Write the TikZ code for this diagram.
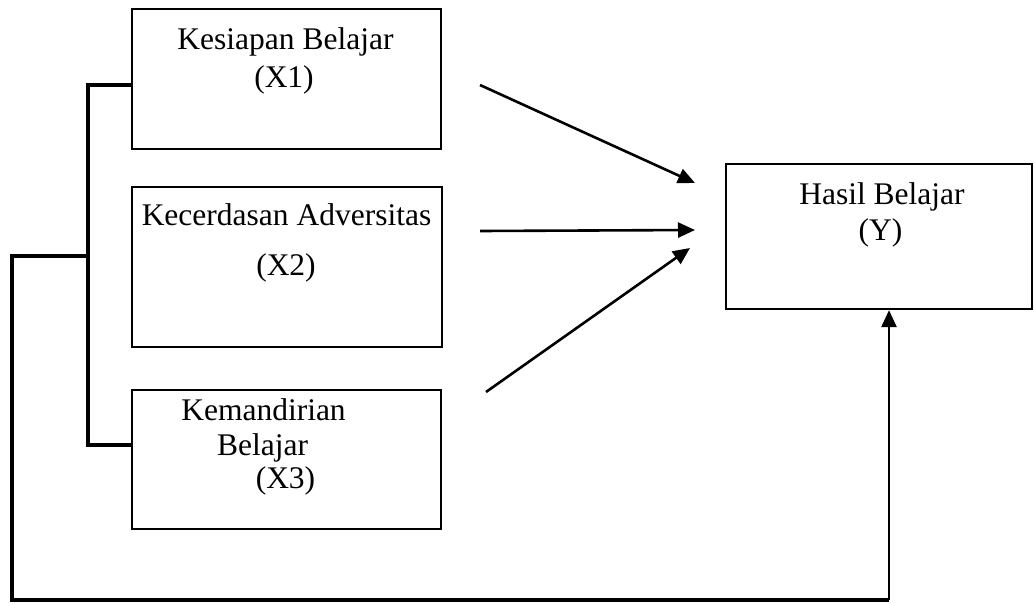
\documentclass[tikz,border=0pt]{standalone}
\usepackage{fontspec}
\setmainfont{Liberation Serif}
\usetikzlibrary{arrows.meta}
\begin{document}
\begin{tikzpicture}[x=1pt,y=-1pt,
  box/.style={draw, line width=2.2pt, minimum width=#1, inner sep=0pt},
  txt/.style={anchor=base, inner sep=0pt, font=\fontsize{31.5}{38}\selectfont},
  bracket/.style={line width=3.6pt},
  arr/.style={line width=2.6pt, -{Triangle[length=17pt,width=15pt]}}]
\useasboundingbox (0,0) rectangle (1034,603);
% boxes
\node[box=309pt, minimum height=140pt] (x1) at (286.5,79) {};
\node[box=310pt, minimum height=160pt] (x2) at (287,267) {};
\node[box=309pt, minimum height=139pt] (x3) at (286.5,459.5) {};
\node[box=306pt, minimum height=145pt] (y) at (879,236.5) {};
% texts
\node[txt] (t1a) at (285.5,49) {Kesiapan Belajar};
\node[txt] (t1b) at (284,87) {(X1)};
\node[txt] (t2a) at (286.5,225) {Kecerdasan Adversitas};
\node[txt] (t2b) at (286,275) {(X2)};
\node[txt] (t3a) at (263.5,420) {Kemandirian};
\node[txt] (t3b) at (262.5,455) {Belajar};
\node[txt] (t3c) at (285.5,488) {(X3)};
\node[txt] (tya) at (882,204) {Hasil Belajar};
\node[txt] (tyb) at (880.5,240) {(Y)};
% bracket and feedback line
\coordinate (b1) at (88,85);
\coordinate (b3) at (88,445);
\coordinate (b2) at (88,256);
\coordinate (l2) at (12,256);
\coordinate (l3) at (12,600);
\coordinate (r3) at (889,600);
\draw[bracket, line join=miter] (x1.west |- b1) -- (b1) -- (b3) -- (x3.west |- b3);
\draw[bracket, line join=miter] (b2) -- (l2) -- (l3) -- (r3);
\draw[arr] (r3) -- (y.south -| r3);
% arrows
\coordinate (s1) at (480,85);
\coordinate (e1) at (695,183);
\coordinate (s2) at (480,231);
\coordinate (e2) at (695,230);
\coordinate (s3) at (486,392);
\coordinate (e3) at (690,248);
\draw[arr] (s1) -- (e1);
\draw[arr] (s2) -- (e2);
\draw[arr] (s3) -- (e3);
\end{tikzpicture}
\end{document}
